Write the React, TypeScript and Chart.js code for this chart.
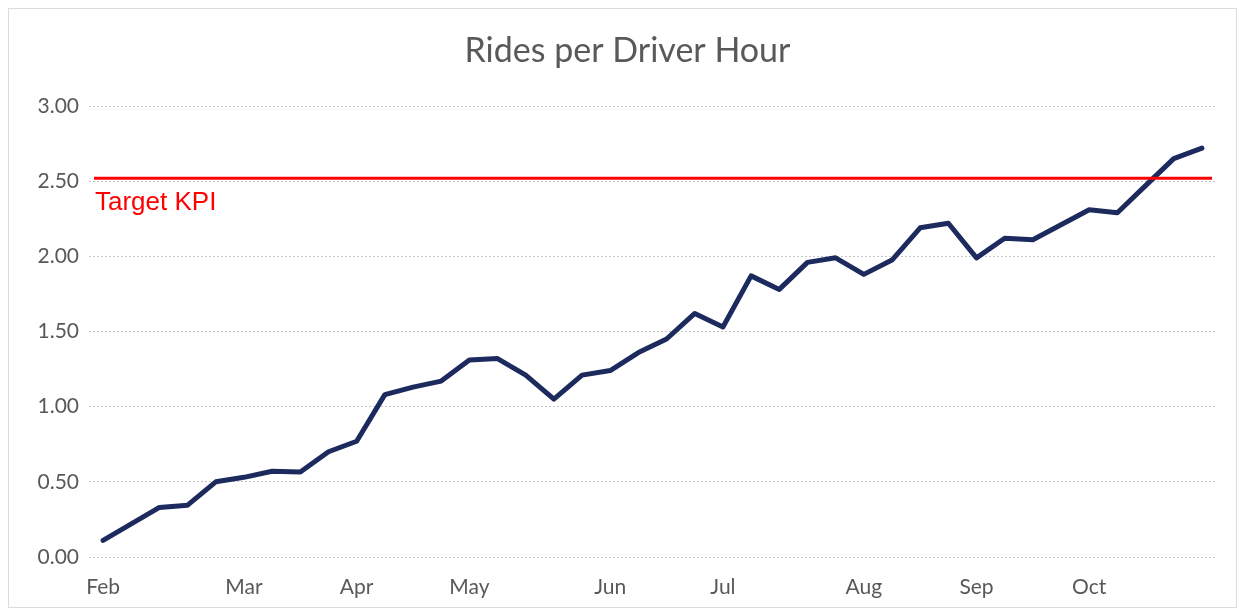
import React, { useEffect, useRef } from "react";
import { Chart, registerables } from "chart.js";

Chart.register(...registerables);

const monthTicks: Record<number, string> = {
  0: "Feb",
  5: "Mar",
  9: "Apr",
  13: "May",
  18: "Jun",
  22: "Jul",
  27: "Aug",
  31: "Sep",
  35: "Oct",
};

const weeks: string[] = Array.from({ length: 40 }, (_, i) => monthTicks[i] ?? "");

const ridesPerDriverHour: number[] = [
  0.11, 0.22, 0.33, 0.345, 0.5, 0.53, 0.57, 0.565, 0.7, 0.77,
  1.08, 1.13, 1.17, 1.31, 1.32, 1.21, 1.05, 1.21, 1.24, 1.36,
  1.45, 1.62, 1.53, 1.87, 1.78, 1.96, 1.99, 1.88, 1.975, 2.19,
  2.22, 1.99, 2.12, 2.11, 2.21, 2.31, 2.29, 2.47, 2.65, 2.72,
];

const chartTitle = "Rides per Driver Hour";
const targetKPI = 2.52;
const targetLabel = "Target KPI";
const yTicks = [0, 0.5, 1, 1.5, 2, 2.5, 3];

const TITLE_FONT = "34px Lato, 'Open Sans', sans-serif";

const overlayPlugin = {
  id: "overlay",
  afterDatasetsDraw(chart: any) {
    const { ctx, chartArea, scales } = chart;
    const y = scales.y.getPixelForValue(targetKPI);
    ctx.save();
    ctx.strokeStyle = "#ff0000";
    ctx.lineWidth = 3;
    ctx.beginPath();
    ctx.moveTo(chartArea.left + 5, y);
    ctx.lineTo(chartArea.right - 4, y);
    ctx.stroke();
    ctx.fillStyle = "#ff0000";
    ctx.font = "26px 'Liberation Sans', Arial, sans-serif";
    ctx.textBaseline = "alphabetic";
    ctx.textAlign = "left";
    ctx.fillText(targetLabel, chartArea.left + 6, y + 32);

    // title
    ctx.fillStyle = "#595959";
    ctx.font = TITLE_FONT;
    ctx.textAlign = "center";
    ctx.textBaseline = "middle";
    ctx.fillText(chartTitle, chart.width / 2 + 5, 42);
    ctx.restore();
  },
};

export default function App() {
  const ref = useRef<HTMLCanvasElement | null>(null);

  useEffect(() => {
    if (!ref.current) return;
    const chart = new Chart(ref.current, {
      type: "line",
      data: {
        labels: weeks,
        datasets: [
          {
            label: chartTitle,
            data: ridesPerDriverHour,
            borderColor: "#1c2a5e",
            borderWidth: 5,
            pointRadius: 0,
            tension: 0,
            fill: false,
            borderCapStyle: "round",
            borderJoinStyle: "round",
          },
        ],
      },
      options: {
        animation: false,
        responsive: false,
        layout: { padding: { left: 0, right: 20, top: 97, bottom: 0 } },
        plugins: {
          legend: { display: false },
          tooltip: { enabled: false },
          title: { display: false },
        },
        scales: {
          x: {
            type: "category",
            offset: true,
            grid: { display: false },
            border: { display: false },
            afterFit: (scale: any) => {
              scale.height = 50;
            },
            ticks: {
              autoSkip: false,
              maxRotation: 0,
              minRotation: 0,
              color: "#595959",
              font: { family: "Lato, 'Open Sans', sans-serif", size: 21 },
              padding: 10,
            },
          },
          y: {
            min: 0,
            max: 3,
            afterBuildTicks: (scale: any) => {
              scale.ticks = yTicks.map((v) => ({ value: v }));
            },
            afterFit: (scale: any) => {
              scale.width = 80;
            },
            grid: {
              color: "#c4c4c4",
              lineWidth: 1,
              drawTicks: false,
            },
            border: { display: false, dash: [2, 2] },
            ticks: {
              color: "#595959",
              font: { family: "Lato, 'Open Sans', sans-serif", size: 21 },
              padding: 10,
              callback: (v: any) => Number(v).toFixed(2),
            },
          },
        },
      },
      plugins: [overlayPlugin],
    });
    return () => chart.destroy();
  }, []);

  return (
    <div style={{ width: 1229, height: 600, border: "1px solid #dcdcdc", boxSizing: "border-box" }}>
      <canvas ref={ref} width={1227} height={598} style={{ display: "block" }} />
    </div>
  );
}
